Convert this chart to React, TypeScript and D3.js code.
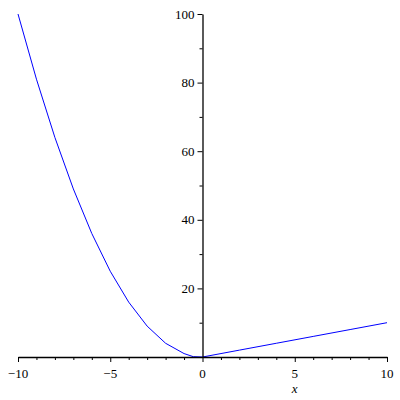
import * as d3 from "d3";
import React from "react";

// points (x, y)
const leftX = [-10, -9, -8, -7, -6, -5, -4, -3, -2, -1, -0.5, 0];
const leftY = [100, 81, 64, 49, 36, 25, 16, 9, 4, 1, 0.1, 0];
const rightX = [0, 2, 4, 6, 8, 10];
const rightY = [0, 2, 4, 6, 8, 10];

const xMajor = [-10, -5, 0, 5, 10];
const yMajor = [20, 40, 60, 80, 100];

const App = () => {
  const ref = React.useRef<SVGSVGElement>(null);

  React.useEffect(() => {
    const svg = d3.select(ref.current);
    svg.selectAll("*").remove();

    const x = d3.scaleLinear().domain([-10, 10]).range([18, 387]);
    const y = d3.scaleLinear().domain([0, 100]).range([357, 14]);
    const font = "Liberation Serif";

    const line = d3.line<[number, number]>()
      .x(d => x(d[0]))
      .y(d => y(d[1]));

    const pts: [number, number][] = leftX.map((v, i) => [v, leftY[i]] as [number, number])
      .concat(rightX.map((v, i) => [v, rightY[i]] as [number, number]));

    svg.append("path")
      .attr("d", line(pts))
      .attr("fill", "none")
      .attr("stroke", "#0000ff")
      .attr("stroke-width", 1);

    // x axis
    const xAxis = d3.axisBottom(x)
      .tickValues(d3.range(-10, 11, 1))
      .tickSize(3)
      .tickSizeOuter(0)
      .tickFormat(() => "");
    const gx = svg.append("g")
      .attr("transform", "translate(0," + y(0) + ")")
      .call(xAxis);
    gx.selectAll(".tick line").filter((d: any) => d % 5 === 0).attr("y2", 5);

    xMajor.forEach(v => {
      svg.append("text")
        .attr("x", x(v))
        .attr("y", 378)
        .attr("text-anchor", "middle")
        .attr("font-family", font)
        .attr("font-size", 13)
        .text(v < 0 ? "\u2212" + Math.abs(v) : String(v));
    });

    svg.append("text")
      .attr("x", x(5))
      .attr("y", 393)
      .attr("text-anchor", "middle")
      .attr("font-family", font)
      .attr("font-style", "italic")
      .attr("font-size", 13)
      .text("x");

    // y axis
    const yAxis = d3.axisLeft(y)
      .tickValues(d3.range(10, 101, 10))
      .tickSize(3)
      .tickSizeOuter(0)
      .tickFormat(() => "");
    const gy = svg.append("g")
      .attr("transform", "translate(" + x(0) + ",0)")
      .call(yAxis);
    gy.selectAll(".tick line").filter((d: any) => d % 20 === 0).attr("x2", -5);

    yMajor.forEach(v => {
      svg.append("text")
        .attr("x", x(0) - 8)
        .attr("y", y(v))
        .attr("dy", "0.35em")
        .attr("text-anchor", "end")
        .attr("font-family", font)
        .attr("font-size", 13)
        .text(String(v));
    });

    svg.selectAll(".domain").attr("stroke", "#000").attr("stroke-width", 1.3);
    svg.selectAll(".tick line").attr("stroke", "#000");
  }, []);

  return (
    <svg
      ref={ref}
      width={400}
      height={400}
      style={{ position: "absolute", left: 0, top: 0, background: "#fff" }}
    />
  );
};

export default App;
